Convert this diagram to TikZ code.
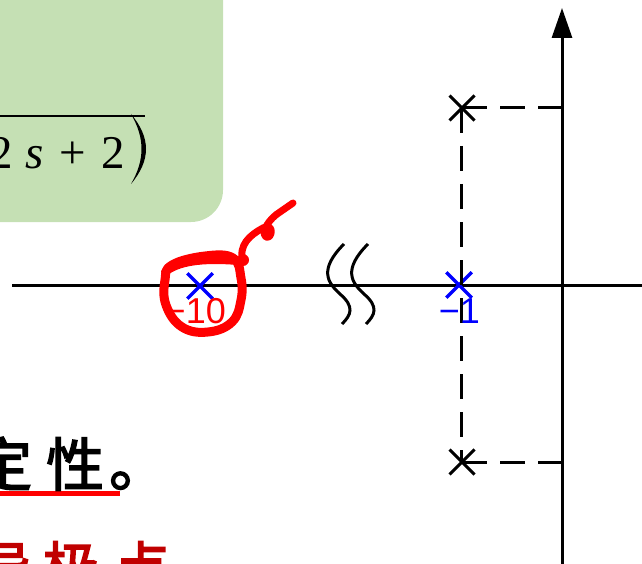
\documentclass[tikz,border=0pt]{standalone}
\usepackage{fontspec}
\usetikzlibrary{arrows.meta,shapes.misc}
\newfontfamily\fmlfont{Liberation Serif}
\newfontfamily\lblfont{Liberation Sans}
\newfontfamily\cjk[FakeBold=2.5]{Noto Sans CJK SC}
\definecolor{boxgreen}{HTML}{C5E0B4}
\definecolor{darkred}{HTML}{C00000}
\tikzset{
  axisline/.style={line width=3pt},
  guide/.style={line width=3pt, dash pattern=on 25pt off 13pt},
  polemark/.style={draw, cross out, minimum size=22pt, inner sep=0pt, line width=3pt},
  fml/.style={inner sep=0pt, font=\fmlfont\fontsize{47}{50}\selectfont},
  lbl/.style={inner sep=0pt, font=\lblfont\fontsize{36}{40}\selectfont},
  cjktext/.style={inner sep=0pt, font=\cjk\fontsize{58}{64}\selectfont},
  breakmark/.style={line width=3pt},
  handink/.style={red, line cap=round, line join=round}
}
\begin{document}
\begin{tikzpicture}[x=1pt,y=-1pt]
\useasboundingbox (0,0) rectangle (642,564);
\clip (0,0) rectangle (642,564);
% green box
\fill[boxgreen, rounded corners=32pt] (-40,-40) rectangle (223,222);
% formula fragment
\draw[line width=1.5pt] (-5,116) -- (145,116);
\node[fml, anchor=base west] (f1) at (-11,168) {2};
\node[fml, anchor=base west] (f2) at (25,168) {\itshape s};
\node[fml, anchor=base west] (f3) at (59,168) {+};
\node[fml, anchor=base west] (f4) at (101,168) {2};
\fill (131,114) .. controls (151,138) and (151,160) .. (131,184)
      .. controls (145,160) and (145,138) .. (131,114) -- cycle;
% axes
\coordinate (xl) at (12,285);
\coordinate (xr) at (642,285);
\coordinate (yb) at (562,570);
\coordinate (yt) at (562,8);
\draw[axisline] (xl) -- (xr);
\draw[axisline, -{Triangle[length=30pt,width=20pt]}] (yb) -- (yt);
% poles
\node[polemark] (p1) at (462,108) {};
\node[polemark] (p3) at (462,462) {};
\node[polemark, blue, line width=3.5pt] (p2) at (459,285) {};
\node[polemark, blue, line width=3.5pt] (p0) at (200,286) {};
\coordinate (a1) at (562,108);
\coordinate (a3) at (562,462);
\draw[guide] (p1.center) -- (a1);
\draw[guide] (p3.center) -- (a3);
\draw[guide] (461,108) -- (461,462);
% labels
\node[lbl, blue, anchor=base east] (l2) at (480,323) {−1};
\node[lbl, red, anchor=base east] (l0) at (226,323) {−10};
% break symbol
\draw[breakmark] (344,244) .. controls (318,270) and (328,283) .. (340,294)
      .. controls (355,307) and (351,315) .. (342,324);
\draw[breakmark] (368,244) .. controls (342,270) and (352,283) .. (364,294)
      .. controls (379,307) and (375,315) .. (366,324);
% hand-drawn red circle
\draw[handink, line width=9pt] plot[smooth cycle, tension=0.7] coordinates
  {(172,265) (205,256) (233,258) (241,278) (241,300) (232,322) (208,332) (182,327) (166,305) (165,280)};
\draw[handink, line width=8pt] (165,272) .. controls (178,262) and (200,258) .. (238,261);
\draw[handink, line width=7pt] (243,262) .. controls (238,245) and (250,235) .. (263,228)
      .. controls (275,222) and (272,240) .. (266,237)
      .. controls (260,232) and (270,218) .. (280,212) -- (293,203);
\fill[red] (243,260) circle (6pt);
% bottom text
\draw[red, line width=5pt] (-5,493) -- (120,493);
\node[cjktext, anchor=base west] (t1) at (-26,486) {定\kern14pt性\kern5pt。};
\node[cjktext, darkred, anchor=base west] (t2) at (-26,590) {导\kern10pt极\kern12pt点};
\end{tikzpicture}
\end{document}
